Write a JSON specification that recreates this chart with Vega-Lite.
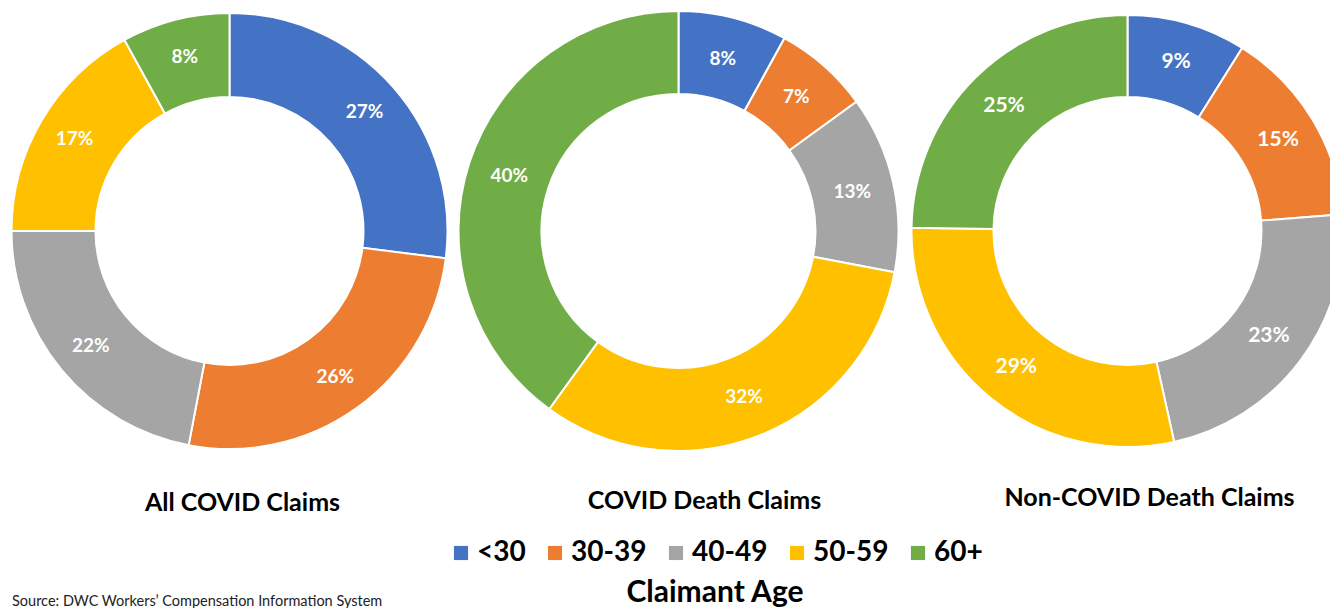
{
  "$schema": "https://vega.github.io/schema/vega-lite/v6.json",
  "padding": {"left": 5, "top": 0, "right": 0, "bottom": 0},
  "background": "white",
  "data": {"values": [
    {"chart": "All COVID Claims", "age": "<30", "k": 1, "pct": 27},
    {"chart": "All COVID Claims", "age": "30-39", "k": 2, "pct": 26},
    {"chart": "All COVID Claims", "age": "40-49", "k": 3, "pct": 22},
    {"chart": "All COVID Claims", "age": "50-59", "k": 4, "pct": 17},
    {"chart": "All COVID Claims", "age": "60+", "k": 5, "pct": 8},
    {"chart": "COVID Death Claims", "age": "<30", "k": 1, "pct": 8},
    {"chart": "COVID Death Claims", "age": "30-39", "k": 2, "pct": 7},
    {"chart": "COVID Death Claims", "age": "40-49", "k": 3, "pct": 13},
    {"chart": "COVID Death Claims", "age": "50-59", "k": 4, "pct": 32},
    {"chart": "COVID Death Claims", "age": "60+", "k": 5, "pct": 40},
    {"chart": "Non-COVID Death Claims", "age": "<30", "k": 1, "pct": 9},
    {"chart": "Non-COVID Death Claims", "age": "30-39", "k": 2, "pct": 15},
    {"chart": "Non-COVID Death Claims", "age": "40-49", "k": 3, "pct": 23},
    {"chart": "Non-COVID Death Claims", "age": "50-59", "k": 4, "pct": 29},
    {"chart": "Non-COVID Death Claims", "age": "60+", "k": 5, "pct": 25}
  ]},
  "transform": [{"calculate": "datum.pct + '%'", "as": "label"}],
  "spacing": 0,
  "hconcat": [
    {
      "width": 449, "height": 462,
      "title": {"text": "All COVID Claims", "dx": 13, "offset": 29},
      "transform": [{"filter": "datum.chart === 'All COVID Claims'"}],
      "encoding": {
        "theta": {"field": "pct", "type": "quantitative", "stack": true},
        "order": {"field": "k", "type": "quantitative", "sort": "ascending"}
      },
      "layer": [
        {"mark": {"type": "arc", "outerRadius": 218, "innerRadius": 134, "stroke": "white", "strokeWidth": 2},
         "encoding": {"color": {"field": "age", "type": "nominal", "sort": ["<30", "30-39", "40-49", "50-59", "60+"],
           "scale": {"domain": ["<30", "30-39", "40-49", "50-59", "60+"], "range": ["#4472C4", "#ED7D31", "#A5A5A5", "#FFC000", "#70AD47"]},
           "legend": {"title": "Claimant Age"}}}},
        {"mark": {"type": "text", "radius": 180, "fill": "white", "fontSize": 19, "fontWeight": "bold", "font": "Lato"},
         "encoding": {"text": {"field": "label", "type": "nominal"}, "detail": {"field": "age"}}}
      ]
    },
    {
      "width": 449, "height": 462,
      "title": {"text": "COVID Death Claims", "dx": 26, "offset": 27},
      "transform": [{"filter": "datum.chart === 'COVID Death Claims'"}],
      "encoding": {
        "theta": {"field": "pct", "type": "quantitative", "stack": true},
        "order": {"field": "k", "type": "quantitative", "sort": "ascending"}
      },
      "layer": [
        {"mark": {"type": "arc", "outerRadius": 220, "innerRadius": 137, "stroke": "white", "strokeWidth": 2},
         "encoding": {"color": {"field": "age", "type": "nominal", "sort": ["<30", "30-39", "40-49", "50-59", "60+"],
           "scale": {"domain": ["<30", "30-39", "40-49", "50-59", "60+"], "range": ["#4472C4", "#ED7D31", "#A5A5A5", "#FFC000", "#70AD47"]},
           "legend": {"title": "Claimant Age"}}}},
        {"mark": {"type": "text", "radius": 178, "fill": "white", "fontSize": 19, "fontWeight": "bold", "font": "Lato"},
         "encoding": {"text": {"field": "label", "type": "nominal"}, "detail": {"field": "age"}}}
      ]
    },
    {
      "width": 449, "height": 462,
      "title": {"text": "Non-COVID Death Claims", "dx": 22, "offset": 24},
      "transform": [{"filter": "datum.chart === 'Non-COVID Death Claims'"}],
      "encoding": {
        "theta": {"field": "pct", "type": "quantitative", "stack": true},
        "order": {"field": "k", "type": "quantitative", "sort": "ascending"}
      },
      "layer": [
        {"mark": {"type": "arc", "outerRadius": 216, "innerRadius": 134, "stroke": "white", "strokeWidth": 2},
         "encoding": {"color": {"field": "age", "type": "nominal", "sort": ["<30", "30-39", "40-49", "50-59", "60+"],
           "scale": {"domain": ["<30", "30-39", "40-49", "50-59", "60+"], "range": ["#4472C4", "#ED7D31", "#A5A5A5", "#FFC000", "#70AD47"]},
           "legend": {"title": "Claimant Age"}}}},
        {"mark": {"type": "text", "radius": 176, "fill": "white", "fontSize": 21, "fontWeight": "bold", "font": "Lato"},
         "encoding": {"text": {"field": "label", "type": "nominal"}, "detail": {"field": "age"}}}
      ]
    }
  ],
  "resolve": {"scale": {"color": "shared", "theta": "independent"}},
  "title": {"text": "Source:  DWC Workers\u2019 Compensation Information System", "orient": "bottom", "anchor": "start", "fontSize": 14.5, "fontWeight": "normal", "font": "Lato", "color": "#222", "offset": 0, "dx": 7, "dy": -13},
  "config": {
    "view": {"stroke": "transparent"},
    "title": {"fontSize": 25, "font": "Lato", "fontWeight": "bold", "color": "black", "orient": "bottom"},
    "legend": {
      "orient": "none", "legendX": 442, "legendY": 539, "direction": "horizontal",
      "symbolType": "square", "symbolSize": 200, "symbolStrokeWidth": 0,
      "labelFont": "Lato", "labelFontSize": 28, "labelFontWeight": "bold", "labelColor": "black",
      "titleFont": "Lato", "titleFontSize": 30, "titleFontWeight": "bold", "titleColor": "black", "titleLimit": 0,
      "titleOrient": "bottom", "titleAnchor": "middle", "titlePadding": 11, "columnPadding": 15, "symbolOffset": 0, "labelOffset": 2
    }
  }
}
